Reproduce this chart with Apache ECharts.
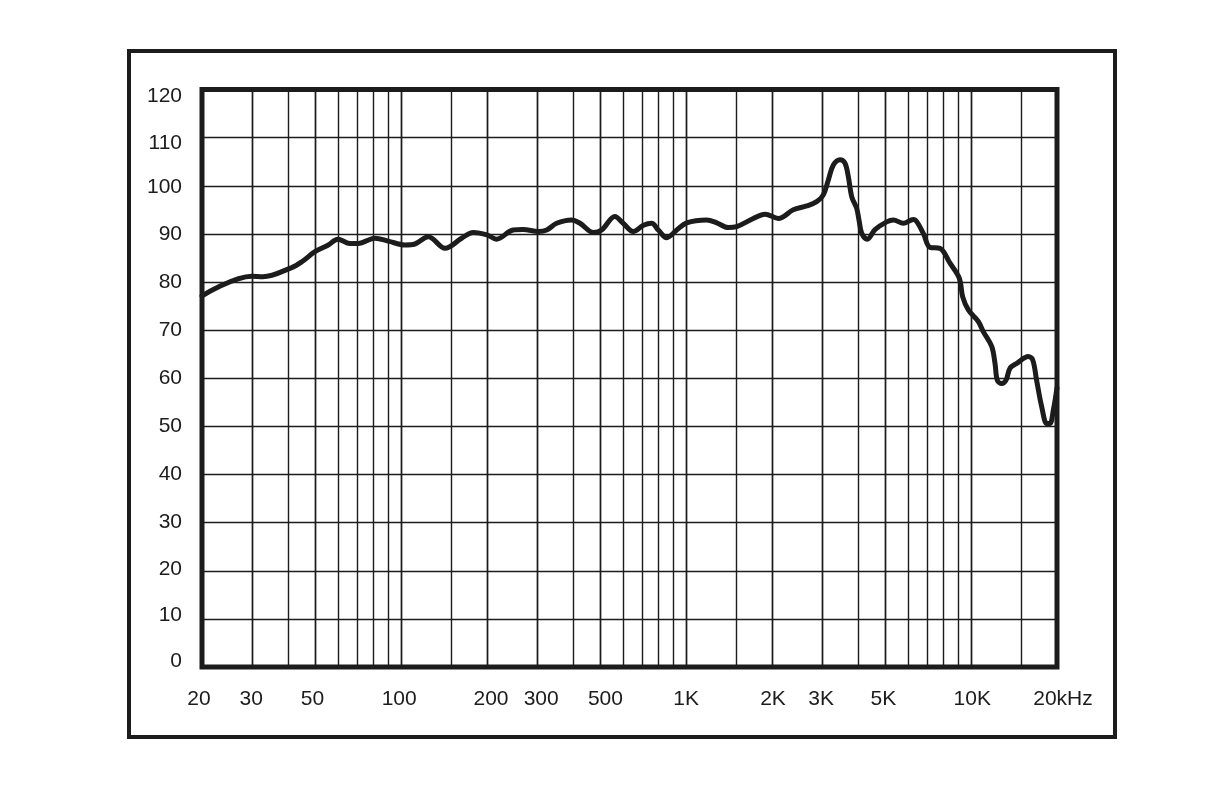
<!DOCTYPE html>
<html>
<head>
<meta charset="utf-8">
<script src="https://cdn.jsdelivr.net/npm/echarts@6/dist/echarts.min.js"></script>
<style>
html,body{margin:0;padding:0;background:#fff;}
#chart{width:1214px;height:789px;}
</style>
</head>
<body>
<div id="chart"></div>
<script>
// Frequency (Hz) and SPL (dB)
const freqs = [20, 29.9, 32.7, 41.3, 44.8, 49.8, 55.5, 59.9, 66.1, 70.7, 80.9, 90.1, 103, 111.7, 124.5, 142.5, 163, 179, 200, 216, 247, 268, 303, 324, 351, 396, 424, 472, 505, 562, 601, 652, 708, 757, 798, 854, 926, 1004, 1180, 1280, 1405, 1503, 1719, 1890, 2106, 2376, 2647, 2870, 3028, 3153, 3283, 3465, 3606, 3705, 3809, 3965, 4049, 4130, 4319, 4597, 5052, 5330, 5778, 6262, 6450, 6792, 7168, 7771, 8426, 9081, 9336, 9771, 10590, 11024, 11800, 12120, 12350, 12800, 13250, 13690, 14450, 15860, 16440, 16960, 17670, 18410, 18890, 19420, 20000];
const spl   = [77.1, 81.2, 81.1, 83.0, 84.2, 86.3, 87.7, 88.9, 88.0, 88.0, 89.1, 88.5, 87.7, 87.9, 89.4, 87.0, 89.1, 90.3, 89.8, 88.9, 90.8, 90.9, 90.5, 90.8, 92.2, 92.9, 92.2, 90.3, 90.8, 93.6, 92.2, 90.5, 91.8, 92.2, 90.8, 89.2, 90.8, 92.3, 92.9, 92.3, 91.3, 91.5, 93.2, 94.1, 93.2, 95.0, 95.8, 96.7, 98.1, 101.2, 104.3, 105.4, 104.7, 101.9, 97.7, 95.3, 92.5, 90.1, 88.9, 90.9, 92.5, 92.9, 92.2, 93.0, 92.5, 90.1, 87.2, 87.0, 83.9, 80.8, 76.9, 74.2, 71.8, 69.7, 66.6, 63.1, 59.6, 58.9, 59.6, 62.1, 63.1, 64.5, 63.8, 59.6, 54.1, 50.6, 50.6, 53.4, 58.0];

// Vertical grid line frequencies and x tick labels
const gridFreqs = [30, 40, 50, 60, 70, 80, 90, 100, 150, 200, 300, 400, 500, 600, 700, 800, 900, 1000, 1500, 2000, 3000, 4000, 5000, 6000, 7000, 8000, 9000, 10000, 15000];
const xTickFreqs  = [20, 30, 50, 100, 200, 300, 500, 1000, 2000, 3000, 5000, 10000, 20000];
const xTickLabels = ['20', '30', '50', '100', '200', '300', '500', '1K', '2K', '3K', '5K', '10K', '20kHz'];

const FONT = "'Liberation Sans Narrow', 'Liberation Sans', Arial, sans-serif";
const INK = '#1c1c1c';

const points = freqs.map((f, i) => [f, spl[i]]);

// small horizontal nudges of the x labels, as in the reference print
const xShift = [-3, -1, -3, -2, 4, 4, 5, 0, 1, -1, -2, 1, 6];

const gridLineData = gridFreqs.map(f => ({ xAxis: f, label: { show: false } }));
const tickLabelData = xTickFreqs.map((f, i) => {
  const d = xShift[i];
  return {
    xAxis: f,
    label: {
      show: true,
      position: 'start',
      formatter: xTickLabels[i],
      distance: 22,
      fontSize: 21,
      fontFamily: FONT,
      color: INK,
      padding: d > 0 ? [0, 0, 0, 2 * d] : [0, -2 * d, 0, 0]
    }
  };
});

// small vertical nudges of the y labels, as in the reference print
const yShift = { 120: 7, 110: 6, 100: 1, 20: -2, 10: -4, 0: -6 };
const rich = {};
Object.keys(yShift).forEach(k => {
  const d = yShift[k];
  rich['s' + k] = {
    fontSize: 21, fontFamily: FONT, color: INK,
    padding: d > 0 ? [2 * d, 0, 0, 0] : [0, 0, -2 * d, 0]
  };
});

const chart = echarts.init(document.getElementById('chart'), null, { renderer: 'canvas' });
chart.setOption({
  animation: false,
  backgroundColor: '#ffffff',
  graphic: [{
    type: 'rect',
    shape: { x: 129, y: 51, width: 986, height: 686 },
    style: { fill: 'none', stroke: INK, lineWidth: 4 },
    silent: true
  }],
  grid: {
    left: 202, top: 89.5, right: 157, bottom: 122,
    show: true, borderColor: INK, borderWidth: 5, backgroundColor: 'transparent',
    containLabel: false
  },
  xAxis: {
    type: 'log',
    logBase: 10,
    min: 20,
    max: 20000,
    axisLine: { show: false },
    axisTick: { show: false },
    axisLabel: { show: false },
    splitLine: { show: false },
    minorSplitLine: { show: false }
  },
  yAxis: {
    type: 'value',
    min: 0,
    max: 120,
    interval: 10,
    axisLine: { show: false },
    axisTick: { show: false },
    axisLabel: {
      fontSize: 21, fontFamily: FONT, color: INK, margin: 20,
      formatter: v => (yShift[v] !== undefined ? '{s' + v + '|' + v + '}' : String(v)),
      rich: rich
    },
    splitLine: { show: true, lineStyle: { color: INK, width: 1.4 } }
  },
  series: [
    {
      type: 'line',
      data: [],
      silent: true,
      z: 1,
      markLine: {
        silent: true,
        symbol: ['none', 'none'],
        animation: false,
        lineStyle: { color: INK, width: 1.4, type: 'solid' },
        emphasis: { disabled: true },
        data: gridLineData.concat(tickLabelData)
      }
    },
    {
      type: 'line',
      data: points,
      z: 5,
      smooth: 0.35,
      showSymbol: false,
      symbol: 'none',
      lineStyle: { color: INK, width: 5, cap: 'round', join: 'round' }
    }
  ]
});
</script>
</body>
</html>
